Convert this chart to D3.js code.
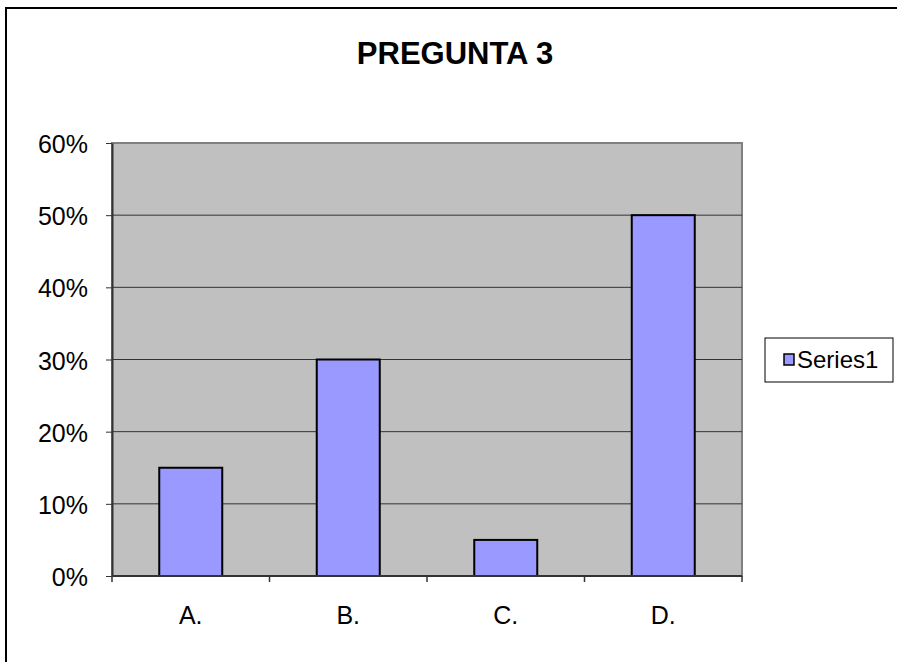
<!DOCTYPE html>
<html><head><meta charset="utf-8">
<script src="https://cdn.jsdelivr.net/npm/d3@7"></script>
<style>body{margin:0;background:#fff}svg{display:block}text{font-family:Arial,"Liberation Sans",sans-serif}</style>
</head><body>
<script>
const categories = ["A.", "B.", "C.", "D."];
const values = [0.15, 0.30, 0.05, 0.50];
const yTicks = [0, 0.1, 0.2, 0.3, 0.4, 0.5, 0.6];
const seriesName = "Series1";
const title = "PREGUNTA 3";

const W = 897, H = 662;
const FONT = "Arial, 'Liberation Sans', sans-serif";
const svg = d3.select("body").append("svg").attr("width", W).attr("height", H);
svg.append("rect").attr("x", 6).attr("y", 8).attr("width", 900).attr("height", 700)
  .attr("fill", "#fff").attr("stroke", "#000").attr("stroke-width", 2);

const L = 112, R = 742, T = 143, B = 576;
const x = d3.scaleBand().domain(categories).range([L, R]).paddingInner(0.6).paddingOuter(0.3);
const y = d3.scaleLinear().domain([0, 0.6]).range([B, T]);

svg.append("rect").attr("x", L).attr("y", T).attr("width", R - L).attr("height", B - T)
  .attr("fill", "#C0C0C0").attr("stroke", "#808080").attr("stroke-width", 2);

svg.selectAll(".grid").data(yTicks.filter(d => d > 0 && d < 0.6)).join("line")
  .attr("x1", L).attr("x2", R).attr("y1", d => y(d)).attr("y2", d => y(d))
  .attr("stroke", "#333").attr("stroke-width", 1);

svg.selectAll(".bar").data(values).join("rect")
  .attr("x", (d, i) => x(categories[i])).attr("width", x.bandwidth())
  .attr("y", d => y(d)).attr("height", d => B - y(d))
  .attr("fill", "#9999FF").attr("stroke", "#000").attr("stroke-width", 2);

const yAxis = d3.axisLeft(y).tickValues(yTicks).tickFormat(d3.format(".0%")).tickSizeInner(6).tickSizeOuter(0).tickPadding(18);
const gy = svg.append("g").attr("transform", `translate(${L},0)`).call(yAxis);
gy.attr("font-size", null).attr("font-family", null);
gy.select(".domain").attr("stroke", "#333").attr("stroke-width", 2);
gy.selectAll(".tick line").attr("stroke", "#333");
gy.selectAll("text").attr("dy", "0.38em").style("font-size", "25px").style("font-family", FONT).attr("fill", "#000");

const step = (R - L) / categories.length;
const gx = svg.append("g").attr("transform", `translate(0,${B})`);
gx.append("line").attr("x1", L).attr("x2", R).attr("y1", 0).attr("y2", 0).attr("stroke", "#333").attr("stroke-width", 2);
gx.selectAll(".tk").data(d3.range(categories.length + 1)).join("line")
  .attr("x1", i => L + i * step).attr("x2", i => L + i * step).attr("y1", 0).attr("y2", 6)
  .attr("stroke", "#333").attr("stroke-width", 1.5);
gx.selectAll(".lbl").data(categories).join("text")
  .attr("x", d => x(d) + x.bandwidth() / 2).attr("y", 48).attr("text-anchor", "middle")
  .style("font-size", "25px").text(d => d);

svg.append("text").attr("x", 455).attr("y", 64).attr("text-anchor", "middle")
  .style("font-size", "31px").attr("font-weight", "bold").text(title);

svg.append("rect").attr("x", 765).attr("y", 338).attr("width", 128).attr("height", 44)
  .attr("fill", "#fff").attr("stroke", "#000").attr("stroke-width", 1);
svg.append("rect").attr("x", 784).attr("y", 354).attr("width", 10).attr("height", 11)
  .attr("fill", "#9999FF").attr("stroke", "#000").attr("stroke-width", 1.5);
svg.append("text").attr("x", 797).attr("y", 368).style("font-size", "24px").text(seriesName);
</script>
</body></html>
